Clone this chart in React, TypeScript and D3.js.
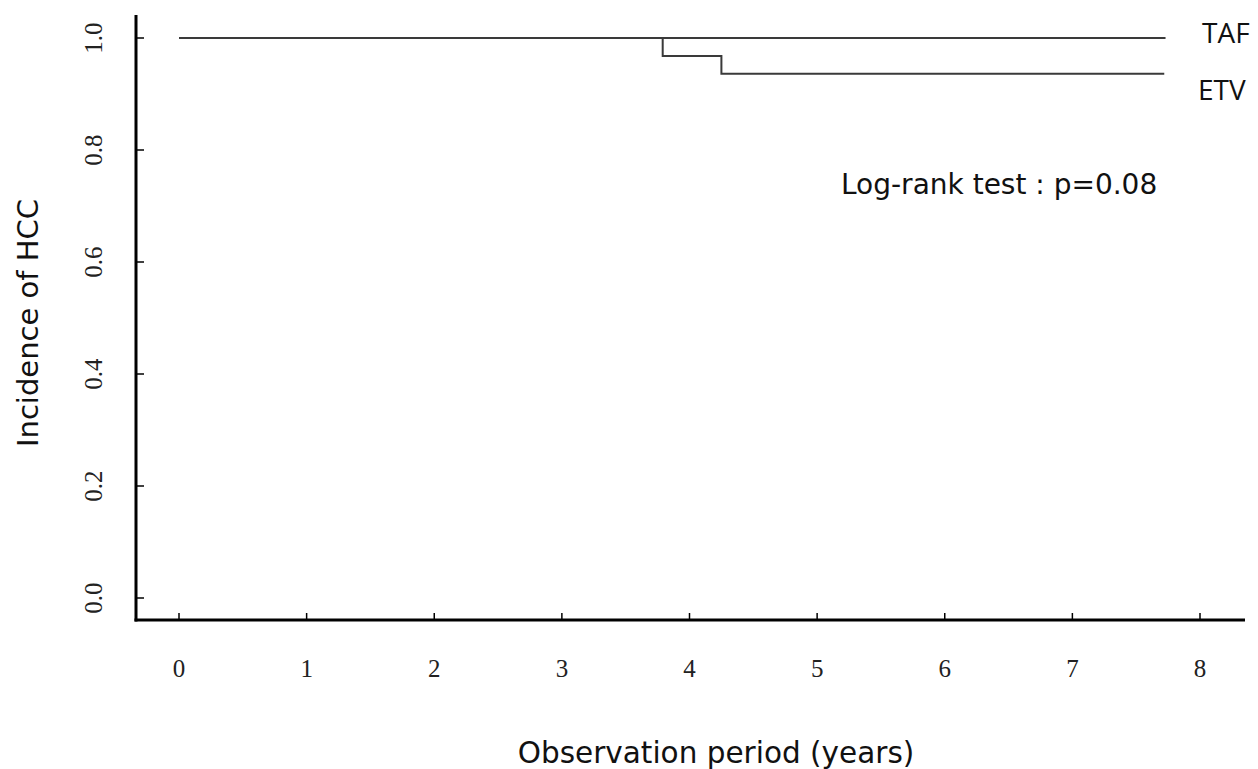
import React from "react";
import * as d3 from "d3";

// Kaplan–Meier style step data (years, cumulative non-incidence)
const tafTimes = [0, 7.73];
const tafValues = [1.0, 1.0];
const etvTimes = [0, 3.79, 4.25, 7.72];
const etvValues = [1.0, 0.968, 0.936, 0.936];
const xTicks = [0, 1, 2, 3, 4, 5, 6, 7, 8];
const yTicks = [0.0, 0.2, 0.4, 0.6, 0.8, 1.0];
const seriesLabels = ["TAF", "ETV"];
const pValueText = "Log-rank test : p=0.08";

const W = 1258;
const H = 769;
const sans = "'DejaVu Sans', 'Open Sans', sans-serif";
const labelSans = "'Open Sans', 'DejaVu Sans', sans-serif";
const serif = "'Liberation Serif', 'Times New Roman', serif";

export default function App() {
  const x = d3.scaleLinear().domain([0, 8]).range([179, 1200]);
  const y = d3.scaleLinear().domain([0, 1]).range([598, 38]);

  const step = d3
    .line<[number, number]>()
    .x((d) => x(d[0]))
    .y((d) => y(d[1]))
    .curve(d3.curveStepAfter);

  const taf = step(tafTimes.map((t, i) => [t, tafValues[i]]));
  const etv = step(etvTimes.map((t, i) => [t, etvValues[i]]));

  const axisLeft = 136;
  const axisBottom = 620;

  return (
    <svg
      width={W}
      height={H}
      style={{ position: "absolute", left: 0, top: 0, background: "#fff" }}
    >
      <rect width={W} height={H} fill="#fff" />
      {/* survival curves */}
      <path d={taf ?? ""} fill="none" stroke="#3a3a3a" strokeWidth={2} />
      <path d={etv ?? ""} fill="none" stroke="#3a3a3a" strokeWidth={2} />

      {/* axes */}
      <line x1={axisLeft} x2={axisLeft} y1={15} y2={axisBottom + 1.5} stroke="#000" strokeWidth={3} />
      <line x1={axisLeft - 1.5} x2={1245} y1={axisBottom} y2={axisBottom} stroke="#000" strokeWidth={3} />

      {yTicks.map((t) => (
        <g key={"y" + t}>
          <line x1={axisLeft} x2={axisLeft + 8} y1={y(t)} y2={y(t)} stroke="#000" strokeWidth={1.5} />
          <text
            transform={`translate(102, ${y(t)}) rotate(-90)`}
            textAnchor="middle"
            fontFamily={serif}
            fontSize={25}
            fill="#222"
          >
            {t.toFixed(1)}
          </text>
        </g>
      ))}

      {xTicks.map((t) => (
        <g key={"x" + t}>
          <line x1={x(t)} x2={x(t)} y1={axisBottom} y2={axisBottom - 7} stroke="#000" strokeWidth={1.5} />
          <text x={x(t)} y={677} textAnchor="middle" fontFamily={serif} fontSize={25} fill="#222">
            {t}
          </text>
        </g>
      ))}

      {/* series labels */}
      <text x={1202} y={43} fontFamily={labelSans} fontSize={28} fill="#111">
        {seriesLabels[0]}
      </text>
      <text x={1198} y={100} fontFamily={labelSans} fontSize={28} fill="#111">
        {seriesLabels[1]}
      </text>

      <text x={841} y={194} fontFamily={sans} fontSize={28} fill="#111">
        {pValueText}
      </text>

      {/* axis titles */}
      <text
        transform="translate(38, 323) rotate(-90)"
        textAnchor="middle"
        fontFamily={sans}
        fontSize={29}
        fill="#111"
      >
        Incidence of HCC
      </text>
      <text x={716} y={763} textAnchor="middle" fontFamily={sans} fontSize={29.5} fill="#111">
        Observation period (years)
      </text>
    </svg>
  );
}
